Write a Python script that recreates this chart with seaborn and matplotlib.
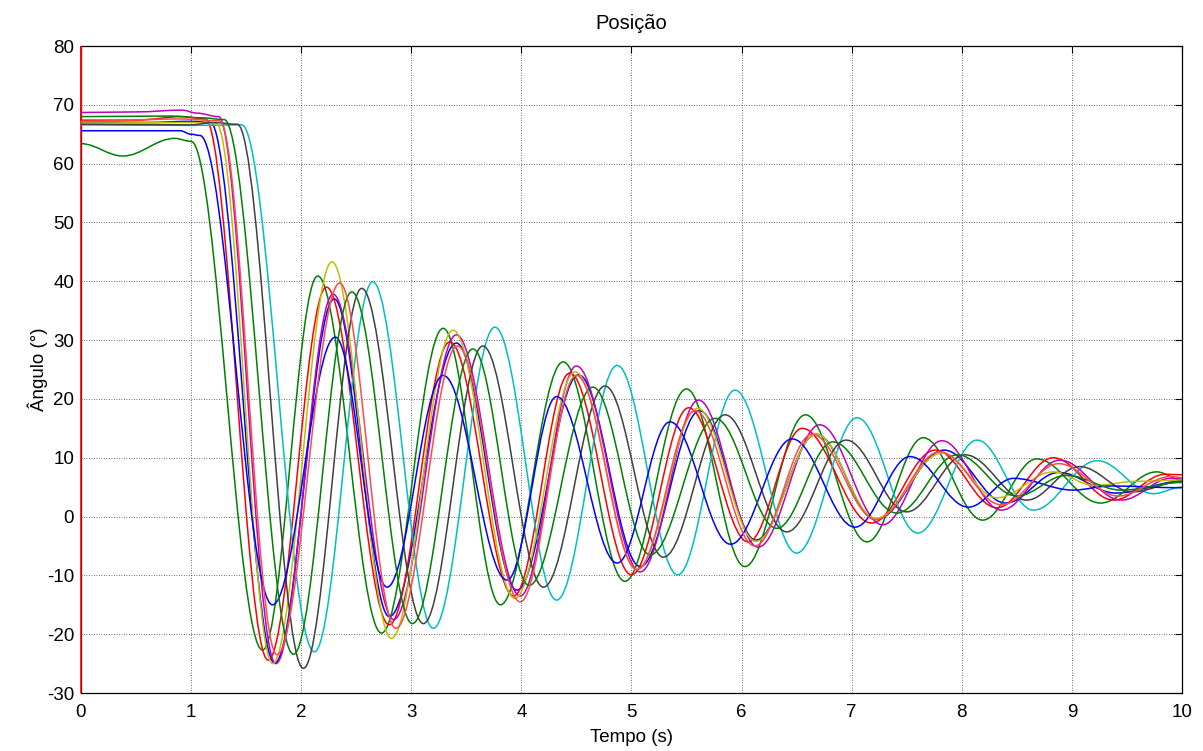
import numpy as np
import matplotlib
matplotlib.use("Agg")
import matplotlib.pyplot as plt
from matplotlib.path import Path
from matplotlib.patches import PathPatch
import seaborn as sns

# Turning points (time in s, angle in degrees) of each pendulum run
t_azul1 = [0, 0.6, 1.0, 1.175, 1.76, 2.30, 2.80, 3.41, 3.96, 4.52, 5.08, 5.62, 6.13, 6.68, 7.22, 7.84, 8.40, 8.88, 9.40, 10.0]
a_azul1 = [67.1, 67.0, 67.2, 67.0, -24.9, 37.0, -17.0, 29.5, -12.5, 24.1, -8.5, 18.0, -4.0, 14.0, -0.5, 11.3, 2.3, 7.5, 4.0, 6.0]

t_verde1 = [0, 0.38, 0.85, 1.0, 1.65, 2.15, 2.73, 3.29, 3.81, 4.38, 4.94, 5.50, 6.03, 6.58, 7.14, 7.65, 8.19, 8.68, 9.26, 9.77, 10.0]
a_verde1 = [63.4, 61.3, 64.3, 63.8, -22.7, 40.9, -19.8, 32.0, -15.0, 26.3, -11.0, 21.7, -8.5, 17.3, -4.3, 13.4, -0.6, 9.8, 2.3, 7.6, 6.2]

# first two samples of this run are the acquisition start-up spike at t = 0
t_vermelho1 = [0, 0, 0, 0.5, 0.92, 1.13, 1.70, 2.23, 2.80, 3.35, 3.93, 4.44, 5.00, 5.52, 6.06, 6.55, 7.18, 7.76, 8.32, 8.83, 9.38, 9.85, 10.0]
a_vermelho1 = [-30, 80, 67.4, 67.4, 68.0, 67.6, -24.4, 39.0, -18.4, 29.7, -13.5, 24.4, -9.9, 18.5, -4.3, 15.0, -1.1, 11.3, 1.5, 10.0, 2.8, 7.2, 7.1]

t_ciano = [0, 1.0, 1.46, 2.12, 2.65, 3.20, 3.76, 4.32, 4.87, 5.42, 5.94, 6.50, 7.05, 7.60, 8.14, 8.65, 9.23, 9.74, 10.0]
a_ciano = [66.6, 66.5, 66.6, -23.0, 39.9, -19.0, 32.2, -14.2, 25.7, -9.9, 21.5, -6.2, 16.8, -2.8, 13.0, 1.1, 9.5, 3.9, 5.0]

t_magenta = [0, 0.5, 0.92, 1.05, 1.25, 1.77, 2.29, 2.84, 3.41, 3.99, 4.50, 5.08, 5.61, 6.15, 6.71, 7.28, 7.82, 8.36, 8.89, 9.45, 9.9, 10.0]
a_magenta = [68.7, 68.8, 69.1, 68.6, 68.0, -25.0, 37.8, -17.5, 30.9, -13.5, 25.6, -9.4, 19.8, -5.2, 15.6, -1.4, 12.9, 1.1, 9.6, 2.8, 6.5, 6.4]

t_amarelo = [0, 1.0, 1.23, 1.74, 2.28, 2.82, 3.38, 3.94, 4.49, 5.05, 5.60, 6.13, 6.68, 7.22, 7.82, 8.32, 8.83, 9.20, 9.60, 10.0]
a_amarelo = [66.9, 67.0, 66.8, -25.0, 43.3, -20.7, 31.7, -13.9, 24.6, -9.0, 18.4, -4.2, 14.0, -0.3, 10.8, 3.2, 7.6, 5.3, 6.0, 6.2]

t_cinza = [0, 1.0, 1.2, 1.42, 2.02, 2.55, 3.11, 3.65, 4.20, 4.76, 5.29, 5.85, 6.41, 6.95, 7.50, 8.03, 8.59, 9.07, 9.55, 10.0]
a_cinza = [66.7, 66.6, 67.0, 66.7, -25.8, 38.8, -18.2, 29.0, -12.0, 22.2, -6.9, 17.3, -2.6, 13.0, 0.8, 10.5, 2.8, 8.5, 4.2, 6.0]

t_azul2 = [0, 0.9, 1.0, 1.08, 1.74, 2.31, 2.78, 3.29, 3.87, 4.32, 4.87, 5.35, 5.90, 6.46, 7.03, 7.53, 8.06, 8.47, 9.01, 9.35, 10.0]
a_azul2 = [65.6, 65.6, 65.0, 64.8, -15.0, 30.5, -12.0, 24.0, -10.8, 20.4, -7.9, 16.1, -4.7, 13.2, -1.8, 10.2, 1.6, 6.5, 4.5, 5.2, 4.9]

t_verde2 = [0, 0.8, 1.1, 1.30, 1.93, 2.46, 3.01, 3.56, 4.07, 4.65, 5.17, 5.76, 6.32, 6.83, 7.41, 7.96, 8.50, 8.95, 9.45, 10.0]
a_verde2 = [68.0, 68.1, 67.8, 67.5, -23.4, 38.2, -18.2, 28.5, -11.7, 22.0, -6.5, 16.7, -2.0, 12.7, 0.6, 10.5, 3.5, 7.0, 4.5, 5.8]

t_vermelho2 = [0, 0.9, 1.26, 1.78, 2.35, 2.86, 3.42, 3.99, 4.50, 5.05, 5.58, 6.12, 6.64, 7.22, 7.80, 8.36, 8.88, 9.42, 9.90, 10.0]
a_vermelho2 = [67.2, 67.6, 67.3, -23.5, 39.7, -19.0, 29.0, -14.5, 24.0, -9.0, 18.0, -5.0, 14.0, -0.5, 11.0, 2.0, 9.0, 3.5, 6.8, 6.6]

ensaios = [
    (t_azul1, a_azul1, "#0000ff"),
    (t_verde1, a_verde1, "#008000"),
    (t_vermelho1, a_vermelho1, "#ff0000"),
    (t_ciano, a_ciano, "#00bfbf"),
    (t_magenta, a_magenta, "#bf00bf"),
    (t_amarelo, a_amarelo, "#bfbf00"),
    (t_cinza, a_cinza, "#404040"),
    (t_azul2, a_azul2, "#0000ff"),
    (t_verde2, a_verde2, "#008000"),
    (t_vermelho2, a_vermelho2, "#ff4a4a"),
]

x_ticks = list(range(0, 11))
y_ticks = list(range(-30, 81, 10))

sns.set_theme(style="whitegrid")
plt.rcParams["font.family"] = ["Liberation Sans", "DejaVu Sans"]
plt.rcParams["axes.unicode_minus"] = False

# Smooth swing between consecutive turning points (horizontal tangent at each one)
K = 1.0 - 2.0 / np.pi


def trajetoria(t, a):
    verts = [(t[0], a[0])]
    codes = [Path.MOVETO]
    for i in range(1, len(t)):
        t0, a0, t1, a1 = t[i - 1], a[i - 1], t[i], a[i]
        dt = t1 - t0
        if dt == 0:
            verts.append((t1, a1))
            codes.append(Path.LINETO)
        else:
            verts += [(t0 + K * dt, a0), (t1 - K * dt, a1), (t1, a1)]
            codes += [Path.CURVE4] * 3
    return Path(verts, codes)


fig = plt.figure(figsize=(12.03, 7.51), dpi=100)
ax = fig.add_axes([0.0673, 0.0772, 0.9152, 0.8615])
ax.set_facecolor("white")

for t, a, cor in ensaios:
    ax.add_patch(PathPatch(trajetoria(t, a), fill=False, edgecolor=cor,
                           linewidth=1.1, zorder=3, clip_on=False))

ax.set_xlim(0, 10)
ax.set_ylim(-30, 80)
ax.set_xticks(x_ticks)
ax.set_yticks(y_ticks)

ax.grid(True, color="#202020", linestyle=(0, (1, 2)), linewidth=0.6, alpha=0.85)
ax.tick_params(direction="in", top=True, right=True, length=5, width=0.8,
               color="black", labelsize=13.5, labelcolor="black")
ax.tick_params(axis="x", pad=8)
ax.tick_params(axis="y", pad=5)
for s in ax.spines.values():
    s.set_visible(True)
    s.set_color("black")
    s.set_linewidth(0.9)

ax.set_title("Posição", fontsize=14.5, color="black", pad=12)
ax.set_xlabel("Tempo (s)", fontsize=13.5, color="black", labelpad=6)
ax.set_ylabel("Ângulo (°)", fontsize=13.5, color="black", labelpad=-1)

fig.savefig("out.png", dpi=100, facecolor="white")
